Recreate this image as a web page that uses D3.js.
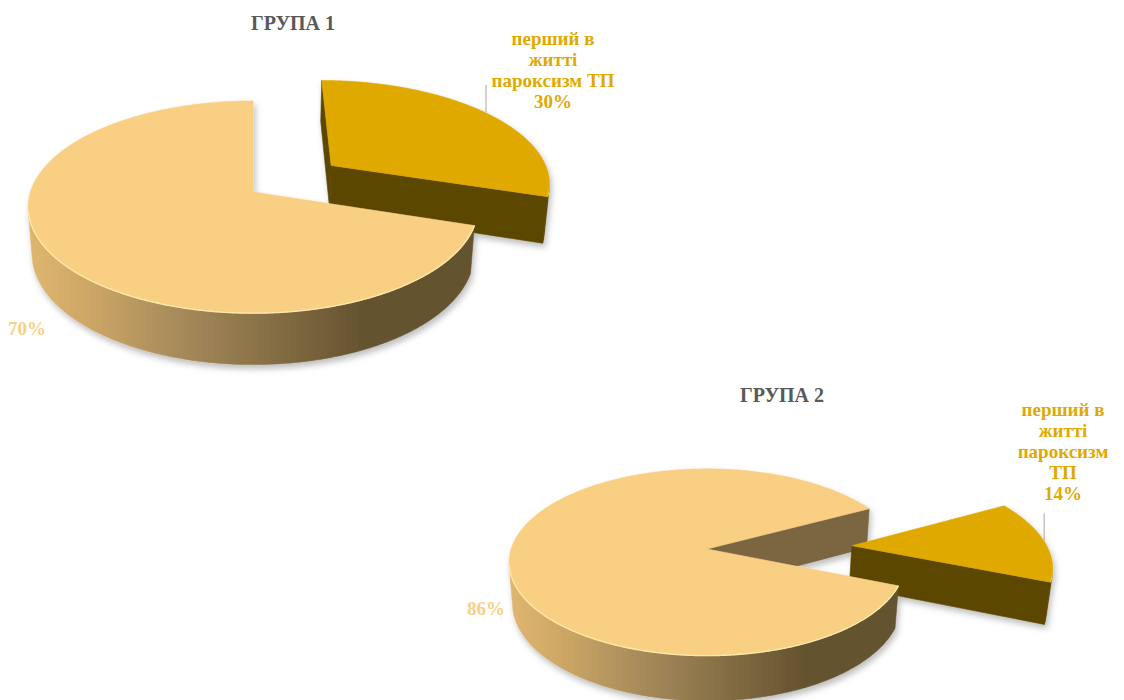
<!DOCTYPE html>
<html>
<head>
<meta charset="utf-8">
<script src="https://cdn.jsdelivr.net/npm/d3@7"></script>
<style>
  html, body { margin: 0; background: #ffffff; }
  svg { display: block; }
</style>
</head>
<body>
<svg id="chart" width="1124" height="700"></svg>
<script>
// Share of patients whose paroxysm was the first in their life, per group
const groupNames = ["ГРУПА 1", "ГРУПА 2"];
const categories = ["перший в житті пароксизм ТП", ""];
const group1Values = [30, 70];
const group2Values = [14, 86];

// Slice styling (index follows categories)
const topColors   = ["#DFA900", "#F9CF84"];
const cutColors   = ["#5B4600", "#7B6642"];
const labelColors = ["#DFA900", "#F9CF84"];
const rimColors   = ["#EDBE2A", "#FFE9A6"];

// Layout of the two tilted pies
const pies = [
  { title: groupNames[0], values: group1Values, cx: 253, cy: 192, scale: 1.0,
    startDeg: 0, explode: [0.45, 0], titlePos: [293, 30], wrap: 128,
    labelPos: [[553, 45], [27, 335]] },
  { title: groupNames[1], values: group2Values, cx: 707, cy: 549, scale: 0.88,
    startDeg: 62, explode: [0.744, 0], titlePos: [782, 402], wrap: 105,
    labelPos: [[1063, 416], [486, 615]] }
];

// Camera: elevation angle, distance (in pie radii), focal length (px), pie thickness
const ALPHA = 27.4 * Math.PI / 180;
const DIST = 6.27;
const FOCAL = 1417;
const XSCALE = 0.985;
const DEPTH = 0.235;
const SA = Math.sin(ALPHA), CA = Math.cos(ALPHA);

const FONT = "'Liberation Serif', 'Times New Roman', serif";

const svg = d3.select("#chart");
const defs = svg.append("defs");

const shadow = defs.append("filter").attr("id", "pieShadow")
  .attr("x", "-10%").attr("y", "-10%").attr("width", "130%").attr("height", "140%");
shadow.append("feDropShadow").attr("dx", 2).attr("dy", 4)
  .attr("stdDeviation", 3).attr("flood-color", "#000").attr("flood-opacity", 0.26);

// perspective projection of a world point (pie radius = 1)
function project(p, X, Y, Z) {
  const d = DIST - (Y * SA + Z * CA);
  const u = Y * CA - Z * SA;
  const F = FOCAL * p.scale;
  return { x: p.cx + XSCALE * F * X / d, y: p.cy - F * u / d, d: d };
}

function rimPoint(p, o, t, Y) {
  return project(p, o[0] + Math.sin(t), Y, o[1] - Math.cos(t));
}

function sampleAngles(a0, a1) {
  const n = Math.max(8, Math.ceil((a1 - a0) / 0.006));
  return d3.range(n + 1).map(i => a0 + (a1 - a0) * i / n);
}

// outer wall faces the camera?
function sideVisible(o, t) {
  return -o[0] * Math.sin(t) + o[1] * Math.cos(t) - DIST * CA * Math.cos(t) - 1 > 0;
}

function refine(o, ta, tb) {
  // ta and tb have different visibility; bisect the boundary
  const va = sideVisible(o, ta);
  for (let k = 0; k < 30; k++) {
    const m = (ta + tb) / 2;
    if (sideVisible(o, m) === va) ta = m; else tb = m;
  }
  return (ta + tb) / 2;
}

function visibleRanges(o, a0, a1) {
  const ts = sampleAngles(a0, a1);
  const ranges = [];
  let cur = null;
  for (let i = 0; i < ts.length; i++) {
    const v = sideVisible(o, ts[i]);
    if (v && !cur) {
      cur = [i === 0 ? ts[0] : refine(o, ts[i - 1], ts[i]), null];
    } else if (!v && cur) {
      cur[1] = refine(o, ts[i - 1], ts[i]);
      ranges.push(cur); cur = null;
    }
  }
  if (cur) { cur[1] = ts[ts.length - 1]; ranges.push(cur); }
  return ranges;
}

const line = d3.line().x(d => d.x).y(d => d.y);

function drawPie(p, pi) {
  const start = p.startDeg * Math.PI / 180;
  const arcs = d3.pie().sort(null).value(v => v)
    .startAngle(start).endAngle(start + 2 * Math.PI)(p.values);

  const F = FOCAL * p.scale;
  const halfW = XSCALE * F / DIST;
  const grad = defs.append("linearGradient").attr("id", "side" + pi)
    .attr("gradientUnits", "userSpaceOnUse")
    .attr("x1", p.cx - halfW).attr("y1", 0).attr("x2", p.cx + halfW).attr("y2", 0);
  [[0, "#DFB66F"], [0.12, "#CFA866"], [0.33, "#A78B5B"], [0.75, "#64522F"], [1, "#64522F"]]
    .forEach(s => grad.append("stop").attr("offset", s[0]).attr("stop-color", s[1]));
  const sideFills = ["#5B4600", "url(#side" + pi + ")"];

  const g = svg.append("g").attr("filter", "url(#pieShadow)");
  const walls = [], tops = [], rims = [];

  arcs.forEach((a, j) => {
    const a0 = a.startAngle, a1 = a.endAngle, mid = (a0 + a1) / 2;
    const e = p.explode[j];
    const o = [e * Math.sin(mid), -e * Math.cos(mid)];
    a.offset = o;
    const ctrTop = project(p, o[0], 0, o[1]);
    const ctrBot = project(p, o[0], -DEPTH, o[1]);

    // radial cut faces
    const cuts = [
      { t: a0, vis: o[0] * Math.cos(a0) - (DIST * CA - o[1]) * Math.sin(a0) },
      { t: a1, vis: -o[0] * Math.cos(a1) + (DIST * CA - o[1]) * Math.sin(a1) }
    ];
    cuts.forEach(c => {
      if (c.vis <= 1e-9) return;
      const pts = [ctrTop, rimPoint(p, o, c.t, 0), rimPoint(p, o, c.t, -DEPTH), ctrBot];
      walls.push({ pts, fill: cutColors[j], depth: d3.mean(pts, q => q.d) });
    });

    // outer curved wall
    visibleRanges(o, a0, a1).forEach(r => {
      const ts = sampleAngles(r[0], r[1]);
      const upper = ts.map(t => rimPoint(p, o, t, 0));
      const lower = ts.slice().reverse().map(t => rimPoint(p, o, t, -DEPTH));
      const pts = upper.concat(lower);
      walls.push({ pts, fill: sideFills[j], depth: d3.mean(pts, q => q.d) });
      rims.push({ pts: upper, color: rimColors[j] });
    });

    // top face
    const topPts = [ctrTop].concat(sampleAngles(a0, a1).map(t => rimPoint(p, o, t, 0)));
    tops.push({ pts: topPts, fill: topColors[j] });
  });

  walls.sort((m, n) => n.depth - m.depth);
  walls.forEach(w => g.append("path").attr("d", line(w.pts) + "Z")
    .attr("fill", w.fill).attr("stroke", w.fill).attr("stroke-width", 0.6)
    .attr("stroke-linejoin", "round"));
  tops.forEach(t => g.append("path").attr("d", line(t.pts) + "Z")
    .attr("fill", t.fill).attr("stroke", t.fill).attr("stroke-width", 0.6)
    .attr("stroke-linejoin", "round"));
  rims.forEach(r => g.append("path").attr("d", line(r.pts))
    .attr("fill", "none").attr("stroke", r.color).attr("stroke-width", 1.4));

  // title
  svg.append("text").attr("x", p.titlePos[0]).attr("y", p.titlePos[1])
    .attr("text-anchor", "middle").attr("font-family", FONT)
    .attr("font-weight", "bold").attr("font-size", 20).attr("fill", "#595959")
    .text(p.title);

  // data labels
  arcs.forEach((a, j) => {
    const pct = d3.format(".0%")(a.value / d3.sum(p.values));
    const [lx, ly] = p.labelPos[j];
    const txt = svg.append("text").attr("x", lx).attr("y", ly)
      .attr("text-anchor", "middle").attr("font-family", FONT)
      .attr("font-weight", "bold").attr("font-size", 19).attr("fill", labelColors[j]);
    const lines = [];
    if (categories[j]) {
      const probe = txt.append("tspan");
      let curLine = [];
      categories[j].split(" ").forEach(w => {
        const trial = curLine.concat([w]).join(" ");
        probe.text(trial);
        if (curLine.length && probe.node().getComputedTextLength() > p.wrap) {
          lines.push(curLine.join(" "));
          curLine = [w];
        } else {
          curLine.push(w);
        }
      });
      if (curLine.length) lines.push(curLine.join(" "));
      probe.remove();
    }
    lines.push(pct);
    lines.forEach((s, k) => txt.append("tspan").attr("x", lx).attr("y", ly + k * 21).text(s));

    // leader line from the slice edge toward its label
    if (categories[j]) {
      const mid = (a.startAngle + a.endAngle) / 2;
      const edge = rimPoint(p, a.offset, mid, 0);
      svg.append("line").attr("x1", edge.x).attr("y1", edge.y - 1)
        .attr("x2", edge.x).attr("y2", edge.y - 28)
        .attr("stroke", "#A6A6A6").attr("stroke-width", 1);
    }
  });
}

pies.forEach(drawPie);
</script>
</body>
</html>
